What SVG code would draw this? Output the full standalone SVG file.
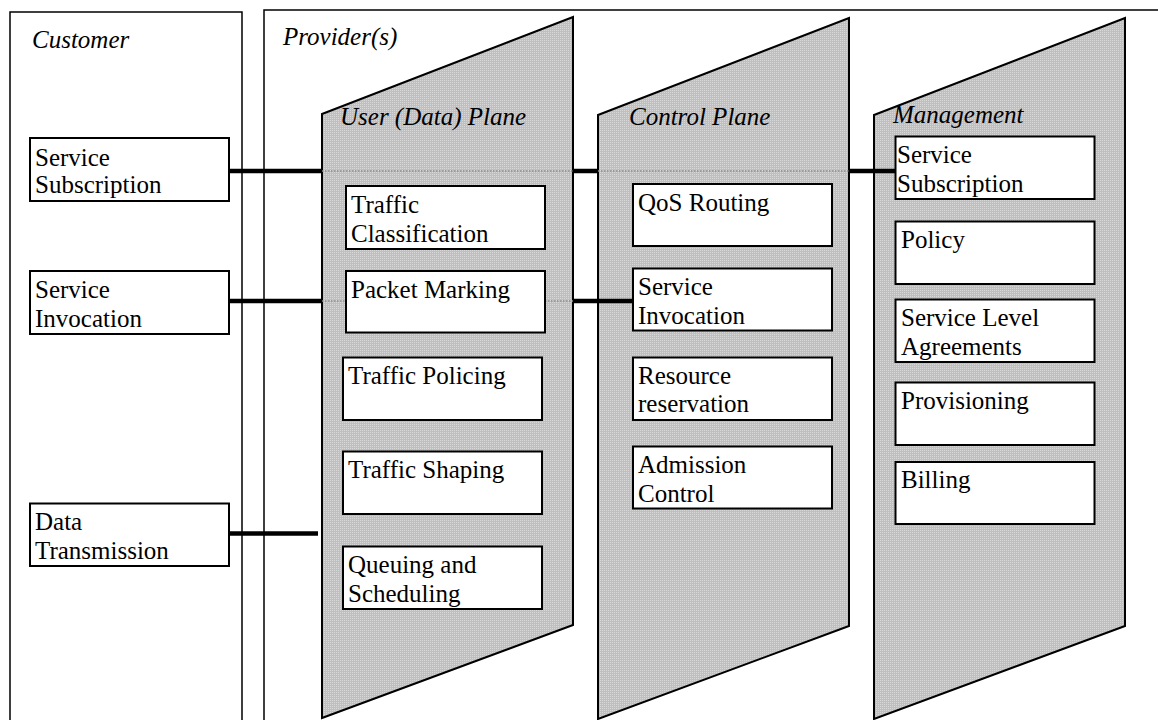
<svg xmlns="http://www.w3.org/2000/svg" width="1158" height="720" viewBox="0 0 1158 720">
<defs>
<pattern id="dots" width="2" height="2" patternUnits="userSpaceOnUse">
<rect width="2" height="2" fill="#bfbfbf"/>
<rect width="1" height="1" fill="#d8d8d8"/>
</pattern>
<style>
.frame{fill:none;stroke:#000;stroke-width:1.5}
.plane{fill:url(#dots);stroke:#000;stroke-width:2}
.box{fill:#fff;stroke:#000;stroke-width:2}
.t{font-family:"Liberation Serif","Times New Roman",serif;font-size:25px;fill:#000}
.ti{font-family:"Liberation Serif","Times New Roman",serif;font-size:25px;font-style:italic;fill:#000}
.thick{stroke:#000;stroke-width:4.5;fill:none}
.dot{stroke:#8c8c8c;stroke-width:1.5;stroke-dasharray:1.5 1.5;fill:none}
</style>
</defs>
<rect width="1158" height="720" fill="#fff"/>

<g id="customer">
<path class="frame" d="M10,722 V12 H242 V722"/>
<text class="ti" x="32" y="48">Customer</text>
</g>
<g id="provider">
<path class="frame" d="M264,722 V10 H1160"/>
<text class="ti" x="283" y="45">Provider(s)</text>
</g>

<g id="user-plane">
<polygon class="plane" points="322,114 573,17 573,625 322,718"/>
<text class="ti" x="340" y="125">User (Data) Plane</text>
</g>
<g id="control-plane">
<polygon class="plane" points="598,115 849,18 849,626 598,719"/>
<text class="ti" x="629" y="125">Control Plane</text>
</g>
<g id="management-plane">
<polygon class="plane" points="874,115 1125,18 1125,626 874,719"/>
<text class="ti" x="893" y="123">Management</text>
</g>

<g id="connectors">
<line class="thick" x1="229" y1="171" x2="322" y2="171"/>
<line class="dot" x1="322" y1="171" x2="573" y2="171"/>
<line class="thick" x1="573" y1="171" x2="598" y2="171"/>
<line class="dot" x1="598" y1="171" x2="849" y2="171"/>
<line class="thick" x1="849" y1="171" x2="896" y2="171"/>
<line class="thick" x1="229" y1="301" x2="322" y2="301"/>
<line class="dot" x1="322" y1="301" x2="346" y2="301"/>
<line class="dot" x1="545" y1="301" x2="573" y2="301"/>
<line class="thick" x1="573" y1="301" x2="633" y2="301"/>
<line class="thick" x1="229" y1="533.5" x2="318" y2="533.5"/>
</g>

<g id="c-subscription"><rect class="box" x="30" y="138" width="199" height="63"/><text class="t" x="35" y="166">Service</text><text class="t" x="35" y="193">Subscription</text></g>
<g id="c-invocation"><rect class="box" x="30" y="271" width="199" height="63"/><text class="t" x="35" y="298">Service</text><text class="t" x="35" y="327">Invocation</text></g>
<g id="c-data"><rect class="box" x="30" y="503.5" width="199" height="62.5"/><text class="t" x="35" y="529.5">Data</text><text class="t" x="35" y="559">Transmission</text></g>

<g id="u-classification"><rect class="box" x="346" y="186" width="199" height="63"/><text class="t" x="351" y="212.5">Traffic</text><text class="t" x="351" y="241.5">Classification</text></g>
<g id="u-marking"><rect class="box" x="346" y="271" width="199" height="61.5"/><text class="t" x="351" y="297.5">Packet Marking</text></g>
<g id="u-policing"><rect class="box" x="343" y="357.5" width="199" height="62.5"/><text class="t" x="348" y="384">Traffic Policing</text></g>
<g id="u-shaping"><rect class="box" x="343" y="451.5" width="199" height="62.5"/><text class="t" x="348" y="478">Traffic Shaping</text></g>
<g id="u-queuing"><rect class="box" x="343" y="546.5" width="199" height="62.5"/><text class="t" x="348" y="572.5">Queuing and</text><text class="t" x="348" y="601.5">Scheduling</text></g>

<g id="k-routing"><rect class="box" x="633" y="184" width="199" height="62"/><text class="t" x="638" y="211">QoS Routing</text></g>
<g id="k-invocation"><rect class="box" x="633" y="268.5" width="199" height="62"/><text class="t" x="638" y="295">Service</text><text class="t" x="638" y="324">Invocation</text></g>
<g id="k-reservation"><rect class="box" x="633" y="357.5" width="199" height="62.5"/><text class="t" x="638" y="383.5">Resource</text><text class="t" x="638" y="411.5">reservation</text></g>
<g id="k-admission"><rect class="box" x="633" y="446.5" width="199" height="62"/><text class="t" x="638" y="473">Admission</text><text class="t" x="638" y="501.5">Control</text></g>

<g id="m-subscription"><rect class="box" x="895.5" y="136.5" width="199" height="62.5"/><text class="t" x="897" y="162.5">Service</text><text class="t" x="897" y="191.5">Subscription</text></g>
<g id="m-policy"><rect class="box" x="895.5" y="221.5" width="199" height="62.5"/><text class="t" x="901" y="248">Policy</text></g>
<g id="m-sla"><rect class="box" x="895.5" y="299.5" width="199" height="62.5"/><text class="t" x="901" y="326">Service Level</text><text class="t" x="901" y="355">Agreements</text></g>
<g id="m-provisioning"><rect class="box" x="895.5" y="382.5" width="199" height="62.5"/><text class="t" x="901" y="409">Provisioning</text></g>
<g id="m-billing"><rect class="box" x="895.5" y="462" width="199" height="62"/><text class="t" x="901" y="488">Billing</text></g>
</svg>
